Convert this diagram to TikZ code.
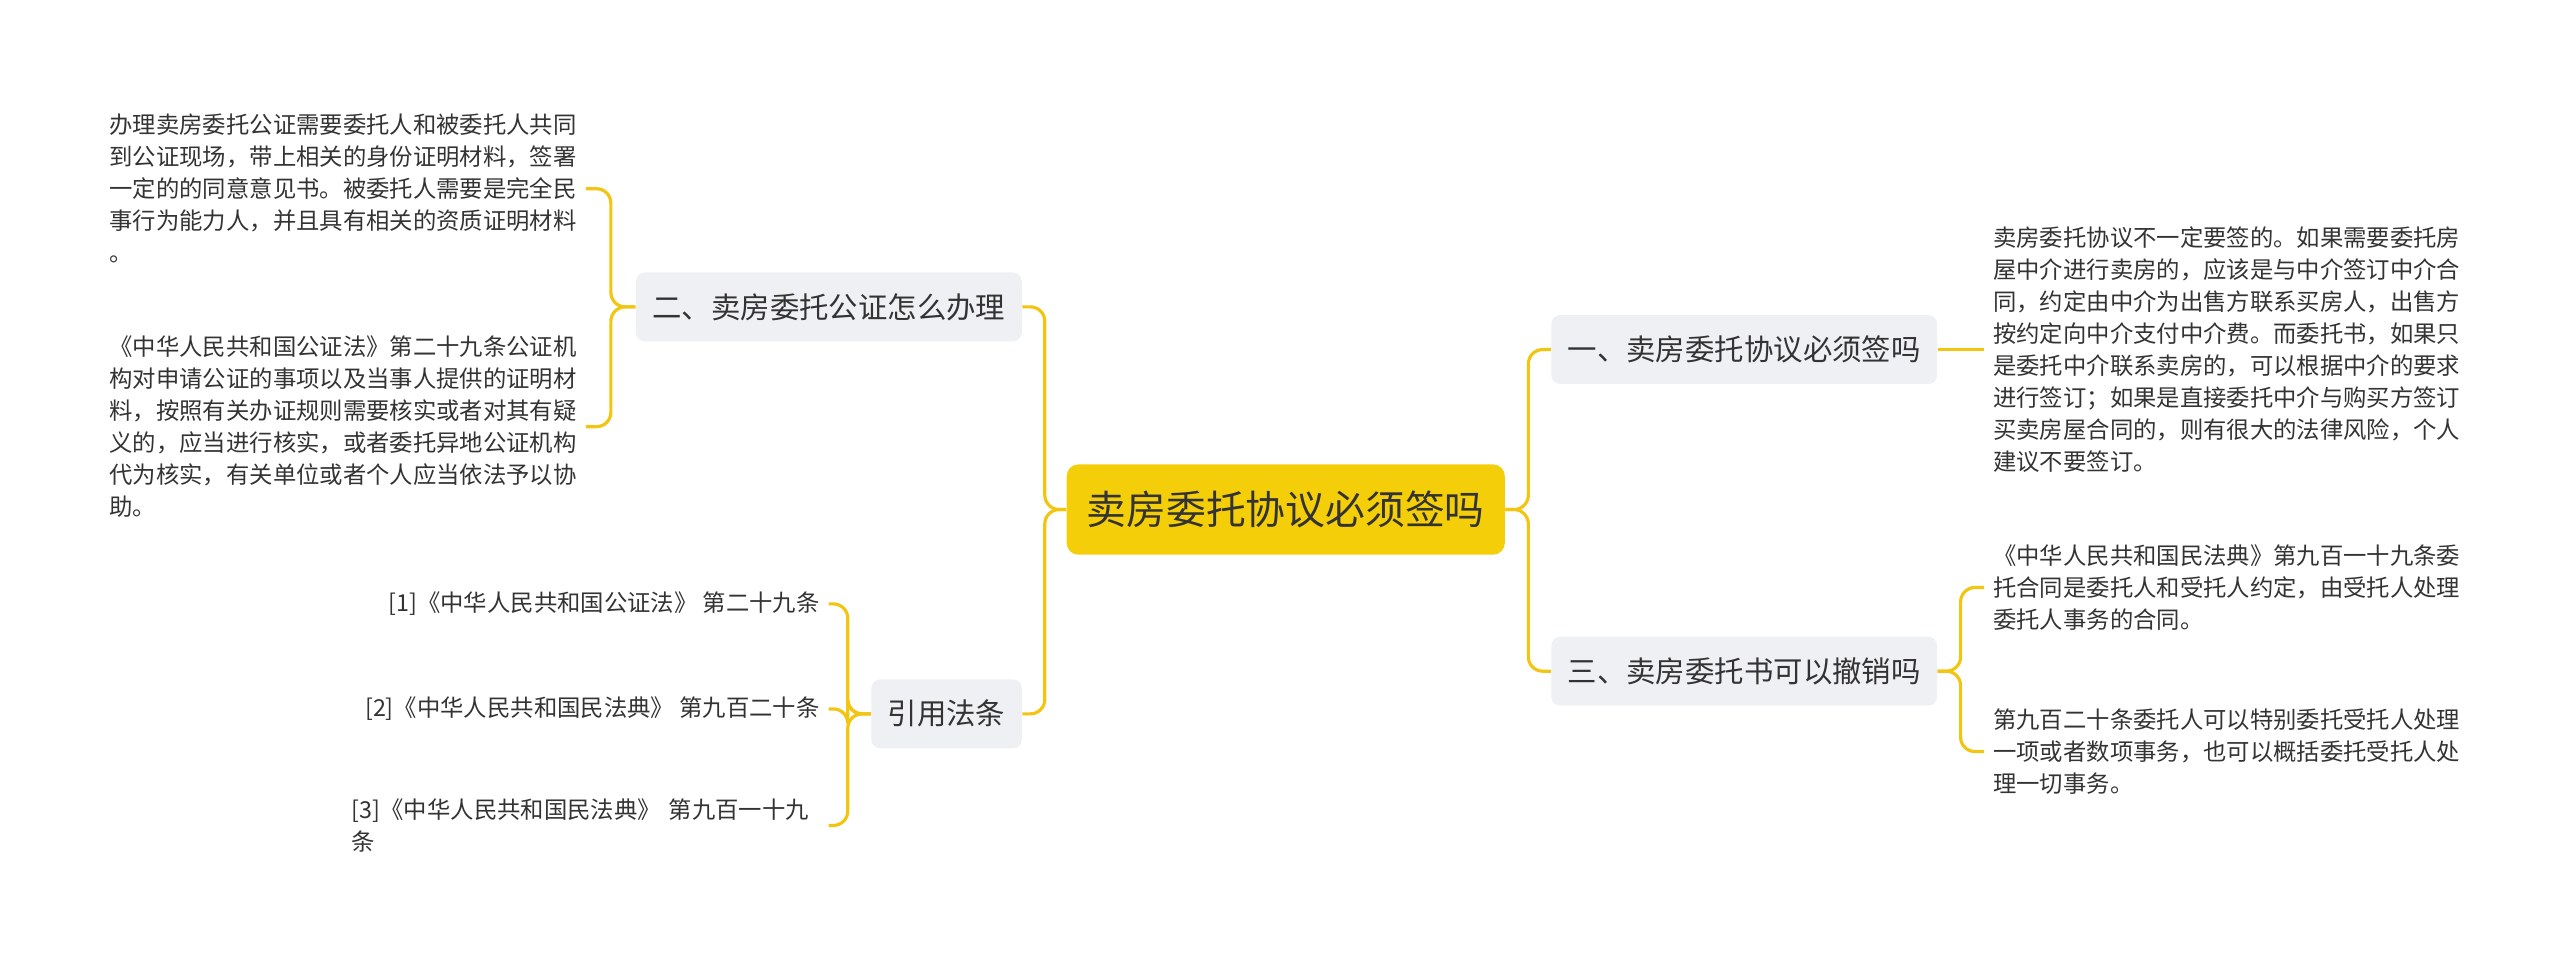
\documentclass[tikz,border=0pt]{standalone}
\usepackage{fontspec}
\setmainfont{Noto Sans CJK SC}
\definecolor{linegold}{HTML}{F2C511}
\definecolor{rootgold}{HTML}{F5CE0A}
\definecolor{branchgrey}{HTML}{EEF0F3}
\definecolor{textgrey}{HTML}{333333}
\tikzset{
  rootbox/.style={fill=rootgold,rounded corners=4pt,minimum width=5.34cm,minimum height=1.1cm,font=\fontsize{13.8}{16}\selectfont,text=textgrey},
  branchbox/.style={fill=branchgrey,rounded corners=3pt,minimum height=0.84cm,inner xsep=0.2cm,font=\fontsize{10.2}{12}\selectfont,text=textgrey},
  leaftext/.style={inner sep=3pt,align=left,font=\fontsize{8.1}{11.1}\selectfont,text=textgrey},
  link/.style={draw=linegold,line width=1.1pt,rounded corners=5pt}
}
\begin{document}
\begin{tikzpicture}[x=0.02cm,y=-0.02cm]
	\useasboundingbox (0,0) rectangle (1560,585.6);
	%root
	\node[rootbox] (root) at (783.5,310.5) {卖房委托协议必须签吗};
	%branches
	\node[branchbox,anchor=east] (notary) at (623,187) {二、卖房委托公证怎么办理};
	\node[branchbox,anchor=east] (laws) at (623,435) {引用法条};
	\node[branchbox,anchor=west] (must) at (945,213) {一、卖房委托协议必须签吗};
	\node[branchbox,anchor=west] (revoke) at (945,409) {三、卖房委托书可以撤销吗};
	%leaves
	\node[leaftext,anchor=east] (notaryA) at (357,115) {办理卖房委托公证需要委托人和被委托人共同\\到公证现场，带上相关的身份证明材料，签署\\一定的的同意意见书。被委托人需要是完全民\\事行为能力人，并且具有相关的资质证明材料\\。};
	\node[leaftext,anchor=east] (notaryB) at (357,260) {《中华人民共和国公证法》第二十九条公证机\\构对申请公证的事项以及当事人提供的证明材\\料，按照有关办证规则需要核实或者对其有疑\\义的，应当进行核实，或者委托异地公证机构\\代为核实，有关单位或者个人应当依法予以协\\助。};
	\node[leaftext,anchor=east,align=right] (lawA) at (505,368) {[1]《中华人民共和国公证法》 第二十九条};
	\node[leaftext,anchor=east,align=right] (lawB) at (505,432) {[2]《中华人民共和国民法典》 第九百二十条};
	\node[leaftext,anchor=east,text width=5.7cm] (lawC) at (505,503) {[3]《中华人民共和国民法典》 第九百一十九\\条};
	\node[leaftext,anchor=west] (mustA) at (1209,213) {卖房委托协议不一定要签的。如果需要委托房\\屋中介进行卖房的，应该是与中介签订中介合\\同，约定由中介为出售方联系买房人，出售方\\按约定向中介支付中介费。而委托书，如果只\\是委托中介联系卖房的，可以根据中介的要求\\进行签订；如果是直接委托中介与购买方签订\\买卖房屋合同的，则有很大的法律风险，个人\\建议不要签订。};
	\node[leaftext,anchor=west] (revokeA) at (1209,358) {《中华人民共和国民法典》第九百一十九条委\\托合同是委托人和受托人约定，由受托人处理\\委托人事务的合同。};
	\node[leaftext,anchor=west] (revokeB) at (1209,458) {第九百二十条委托人可以特别委托受托人处理\\一项或者数项事务，也可以概括委托受托人处\\理一切事务。};
	%links
	\foreach \b in {notary,laws}
	\draw[link] (root.west) -- ++(-13,0) |- (\b.east);
	\foreach \b in {must,revoke}
	\draw[link] (root.east) -- ++(14,0) |- (\b.west);
	\foreach \l in {notaryA,notaryB}
	\draw[link] (notary.west) -- ++(-15,0) |- (\l.east);
	\foreach \l in {lawA,lawB,lawC}
	\draw[link] (laws.west) -- ++(-14,0) |- (\l.east);
	\draw[link] (must.east) -- (mustA.west);
	\foreach \l in {revokeA,revokeB}
	\draw[link] (revoke.east) -- ++(14,0) |- (\l.west);
\end{tikzpicture}
\end{document}
